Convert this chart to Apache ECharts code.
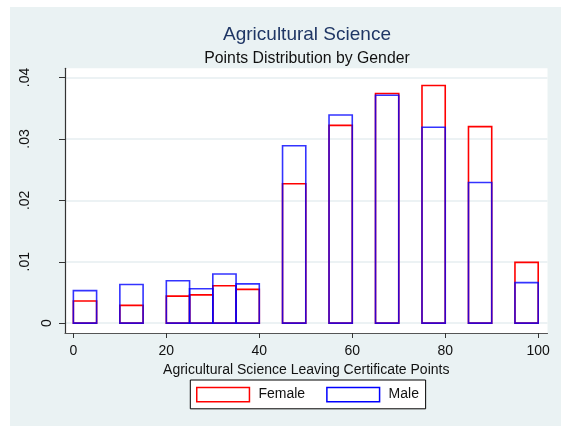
<!DOCTYPE html>
<html>
<head>
<meta charset="utf-8">
<script src="https://cdn.jsdelivr.net/npm/echarts@6/dist/echarts.min.js"></script>
<style>
  html, body { margin: 0; padding: 0; background: #fff; }
  #chart {
    position: absolute;
    left: 10px;
    top: 7px;
    width: 551px;
    height: 419px;
  }
</style>
</head>
<body>
<div id="chart"></div>
<script>
  // histogram bins (start of each bin, width 5 points)
  var binStart = [0, 10, 20, 25, 30, 35, 45, 55, 65, 75, 85, 95]
  var binWidth = 5
  // densities
  var female = [0.0036, 0.0029, 0.0044, 0.0046, 0.0061, 0.0055, 0.0227, 0.0322, 0.0374, 0.0387, 0.0320, 0.0099]
  var male = [0.0053, 0.0063, 0.0069, 0.0056, 0.0080, 0.0064, 0.0289, 0.0339, 0.0371, 0.0319, 0.0229, 0.0066]
  var xTicks = [0, 20, 40, 60, 80, 100]
  var yTicks = [0, 0.01, 0.02, 0.03, 0.04]

  var font = 'Liberation Sans, Arial, sans-serif'

  function toBins (values) {
    return binStart.map(function (s, i) {
      return [s, s + binWidth, values[i]]
    })
  }

  function outline (color, opacity) {
    return function (params, api) {
      var p0 = api.coord([api.value(0), 0])
      var p1 = api.coord([api.value(1), api.value(2)])
      return {
        type: 'rect',
        shape: { x: p0[0], y: p1[1], width: p1[0] - p0[0], height: p0[1] - p1[1] },
        style: { fill: null, stroke: color, lineWidth: 1.6, opacity: opacity }
      }
    }
  }

  var chart = echarts.init(document.getElementById('chart'))
  chart.setOption({
    backgroundColor: '#eaf2f3',
    animation: false,
    title: [
      {
        text: 'Agricultural Science',
        left: 297,
        top: 18,
        padding: 0,
        textAlign: 'center',
        textStyle: { fontFamily: font, fontSize: 19, fontWeight: 'normal', color: '#1f3665' }
      },
      {
        text: 'Points Distribution by Gender',
        left: 297,
        top: 44,
        padding: 0,
        textAlign: 'center',
        textStyle: { fontFamily: font, fontSize: 15.8, fontWeight: 'normal', color: '#111' }
      }
    ],
    legend: {
      left: 180.3,
      top: 373,
      orient: 'horizontal',
      padding: [6.7, 6.7, 6.3, 5.7],
      itemWidth: 52.7,
      itemHeight: 14.3,
      itemGap: 21,
      backgroundColor: '#fff',
      borderColor: '#000',
      borderWidth: 1,
      borderRadius: 0,
      textStyle: { fontFamily: font, fontSize: 14, color: '#111', padding: [0, 0, 0, 4] },
      data: [
        { name: 'Female', icon: 'rect', itemStyle: { color: '#fff', borderColor: '#ff0000', borderWidth: 1.5 } },
        { name: 'Male', icon: 'rect', itemStyle: { color: '#fff', borderColor: '#0000ff', borderWidth: 1.5 } }
      ]
    },
    grid: {
      left: 55,
      right: 13.5,
      top: 61.3,
      bottom: 93,
      show: true,
      backgroundColor: '#fff',
      borderWidth: 0
    },
    xAxis: {
      type: 'value',
      min: -1.8,
      max: 102,
      name: 'Agricultural Science Leaving Certificate Points',
      nameLocation: 'middle',
      nameGap: 21,
      nameTextStyle: { fontFamily: font, fontSize: 14, color: '#111' },
      axisLine: { show: true, onZero: false, lineStyle: { color: '#555', width: 1.2 } },
      axisTick: { show: true, length: 5, customValues: xTicks, lineStyle: { color: '#333' } },
      axisLabel: { customValues: xTicks, margin: 11, fontFamily: font, fontSize: 14, color: '#111' },
      splitLine: { show: false }
    },
    yAxis: {
      type: 'value',
      min: -0.0016,
      max: 0.0415,
      axisLine: { show: true, onZero: false, lineStyle: { color: '#333', width: 1.2 } },
      axisTick: { show: true, length: 6, customValues: yTicks, lineStyle: { color: '#333' } },
      axisLabel: {
        customValues: yTicks,
        rotate: 90,
        margin: 11,
        formatter: function (v) {
          if (v === 0) return '{z|0}'
          return '{d|' + String(v).replace('0.', '.') + '}'
        },
        rich: {
          z: { fontFamily: font, fontSize: 14, color: '#111' },
          d: { fontFamily: font, fontSize: 14, color: '#111', padding: [0, 0, 22, 0] }
        }
      },
      splitLine: { show: true, lineStyle: { color: '#e6eef0', width: 1.5 } }
    },
    series: [
      {
        name: 'Female',
        type: 'custom',
        renderItem: outline('#ff0000', 1),
        itemStyle: { color: '#ff0000' },
        data: toBins(female),
        z: 2
      },
      {
        name: 'Male',
        type: 'custom',
        renderItem: outline('#0000ff', 0.8),
        itemStyle: { color: '#0000ff' },
        data: toBins(male),
        z: 3
      }
    ]
  })
</script>
</body>
</html>
